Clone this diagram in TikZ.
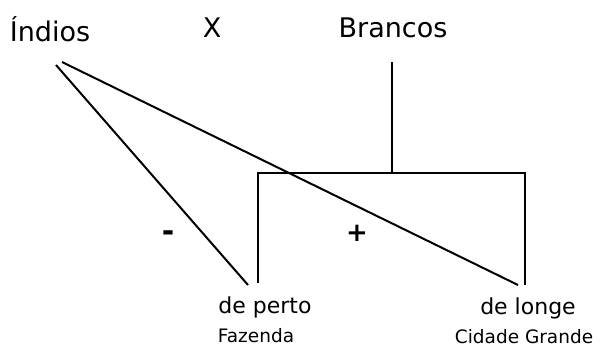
\documentclass[tikz,border=0pt]{standalone}
\usepackage{fontspec}
\setmainfont{DejaVu Sans}
\usetikzlibrary{positioning}
\begin{document}
\begin{tikzpicture}[x=1pt, y=-1pt,
        t/.style={anchor=base, inner sep=0pt, font=\fontsize{27}{30}\selectfont},
        t2/.style={anchor=base, inner sep=0pt, font=\fontsize{22}{26}\selectfont},
        t3/.style={anchor=base, inner sep=0pt, font=\fontsize{18.5}{22}\selectfont},
        sg/.style={inner sep=0pt, font=\bfseries\fontsize{26}{30}\selectfont},
        e/.style={line width=2pt}]
        \useasboundingbox (0,0) rectangle (601,356);
        \draw node[t] (indios) at (50,41) {Índios} node[t] (vs) at (212,37) {X} node[t] (brancos) at (393,37) {Brancos};
        \draw node[t2] (perto) at (265,313) {de perto} node[t2] (longe) at (528,314) {de longe};
        \draw node[t3] (fazenda) at (256,342) {Fazenda} node[t3] (cidade) at (524,343) {Cidade Grande};
        \draw node[sg, font=\bfseries\fontsize{30}{34}\selectfont] (menos) at (168,236) {-} node[sg] (mais) at (357,233) {+};

        \coordinate (ia) at (56,65);
        \coordinate (ib) at (62,62);
        \coordinate (b0) at (392,62);
        \coordinate (b1) at (392,173);
        \coordinate (pt) at (258,173);
        \coordinate (pb) at (258,283);
        \coordinate (lt) at (525,173);
        \coordinate (lb) at (525,285);
        \coordinate (pe) at (248,285);
        \coordinate (le) at (518,285);

        \draw[e] (b0) -- (b1) (pb) -- (pt) -- (lt) -- (lb);
        \draw[e] (ia) -- (pe) (ib) -- (le);
      \end{tikzpicture}
\end{document}
